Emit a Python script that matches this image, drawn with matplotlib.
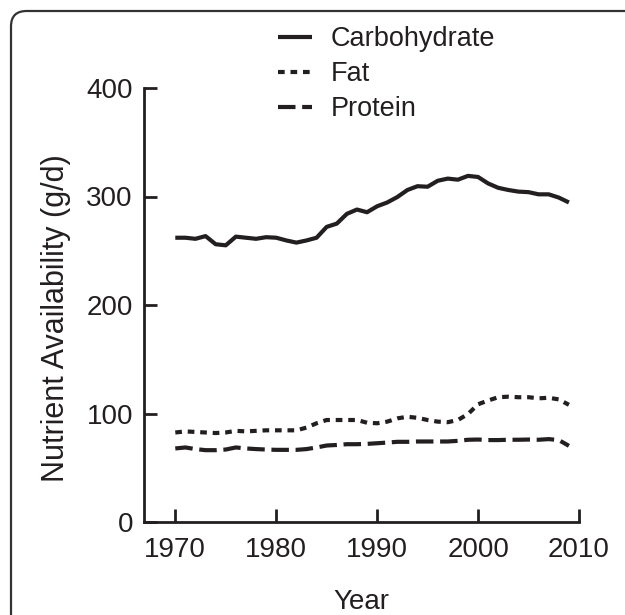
import matplotlib
matplotlib.use("Agg")
import matplotlib.pyplot as plt
from matplotlib.patches import FancyBboxPatch
import numpy as np

years = list(range(1970, 2010))
carbohydrate = [262, 262, 261, 263.5, 256, 255, 263, 262, 261, 262.5,
                262, 259.5, 257.5, 259.5, 262, 272, 275, 284, 288, 285.5,
                291, 294.5, 299.5, 306, 309.5, 309, 314.5, 316.5, 315.5, 319,
                318, 312, 308, 306, 304.5, 304, 302, 302, 299, 294.5]
fat = [82.5, 83.5, 83, 82.5, 82, 82.5, 84, 83.5, 84, 84.5,
       84.5, 84.5, 84.5, 87, 91, 94, 94, 94, 94, 91.5,
       91, 92.5, 95.5, 97, 96, 94, 92.5, 92, 94, 99.5,
       108.5, 112, 115, 115.5, 115, 115, 114, 114.5, 113, 108]
protein = [67.8, 68.7, 67.2, 66.2, 66.2, 66.8, 68.7, 67.8, 67.2, 66.8,
           66.5, 66.5, 66.5, 67.2, 68.7, 70.5, 71, 71.7, 71.7, 72,
           72.6, 73.2, 73.9, 73.9, 74.2, 74.2, 74.2, 74.2, 74.8, 75.8,
           76, 75.5, 75.5, 75.8, 75.8, 76, 75.8, 76.4, 75.5, 70.2]
series_names = ["Carbohydrate", "Fat", "Protein"]
xticks = [1970, 1980, 1990, 2000, 2010]
yticks = [0, 100, 200, 300, 400]

ink = "#231f20"
plt.rcParams['font.family'] = ['Liberation Sans', 'DejaVu Sans']

W, H = 625, 615
fig = plt.figure(figsize=(W / 100, H / 100), dpi=100)

# rounded frame (runs off right and bottom edges)
frame = FancyBboxPatch((11 / W, -0.2), 1.2, 1 - 11 / H + 0.2,
                       boxstyle="round,pad=0,rounding_size=0.025",
                       transform=fig.transFigure, fill=False,
                       edgecolor="#333333", linewidth=1.6, clip_on=False)
fig.patches.append(frame)

ax = fig.add_axes([144 / W, 1 - 522 / H, (579 - 144) / W, (522 - 88) / H])
lw = 3.0
ax.plot(years, carbohydrate, color=ink, lw=lw, solid_capstyle='butt',
        solid_joinstyle='round', label=series_names[0])
ax.plot(years, fat, color=ink, lw=lw, linestyle=(0, (1.6, 1.4)),
        dash_capstyle='butt', label=series_names[1])
ax.plot(years, protein, color=ink, lw=lw, linestyle=(0, (4.2, 1.6)),
        dash_capstyle='butt', label=series_names[2])

ax.set_xlim(1966.9, 2010)
ax.set_ylim(0, 400)
ax.set_xticks(xticks)
ax.set_yticks(yticks)
for s in ["top", "right"]:
    ax.spines[s].set_visible(False)
for s in ["left", "bottom"]:
    ax.spines[s].set_linewidth(2.0)
    ax.spines[s].set_color(ink)
ax.tick_params(direction='in', length=9.5, width=2.0, colors=ink,
               labelsize=20, labelcolor=ink)
ax.tick_params(axis='y', pad=8)
ax.tick_params(axis='x', pad=11)
ax.patch.set_alpha(0)

ax.set_ylabel("Nutrient Availability (g/d)", fontsize=22, color=ink)
ax.yaxis.set_label_coords(-0.168, 0.47)
ax.set_xlabel("Year", fontsize=20, color=ink)
ax.xaxis.set_label_coords(0.5, -0.154)

leg = fig.legend(loc='upper left', bbox_to_anchor=(278 / W, 1 - 26 / H),
                 frameon=False, fontsize=19.5, handlelength=1.26,
                 handletextpad=0.67, labelspacing=0.34,
                 labelcolor=ink, borderaxespad=0, borderpad=0)

fig.savefig("out.png", dpi=100)
